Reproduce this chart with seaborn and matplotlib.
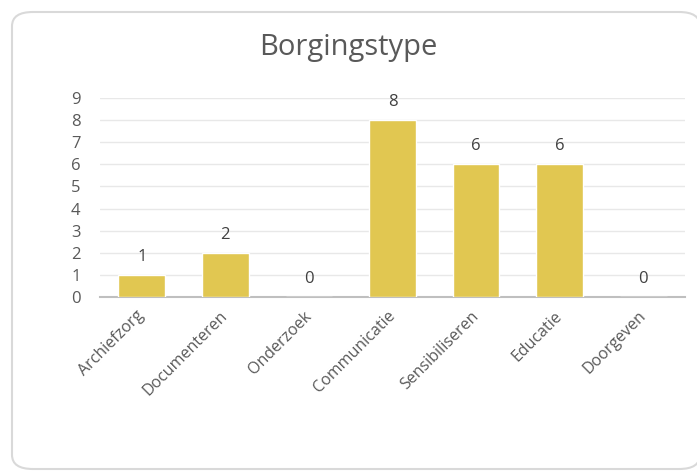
import matplotlib
matplotlib.use("Agg")
import matplotlib.pyplot as plt
from matplotlib.patches import FancyBboxPatch
import pandas as pd
import seaborn as sns

categories = ["Archiefzorg", "Documenteren", "Onderzoek", "Communicatie",
              "Sensibiliseren", "Educatie", "Doorgeven"]
counts = [1, 2, 0, 8, 6, 6, 0]
title = "Borgingstype"

bar_color = "#E1C751"
text_color = "#595959"

sns.set_theme(style="white")
plt.rcParams["font.family"] = ["Open Sans", "DejaVu Sans"]

df = pd.DataFrame({"type": categories, "count": counts})

W, H = 697, 472
fig = plt.figure(figsize=(W / 100, H / 100), dpi=100)

# rounded card border
card = FancyBboxPatch((12 / W, 3 / H), (700 - 12) / W, (460 - 3) / H,
                      boxstyle="round,pad=0,rounding_size=0.03",
                      transform=fig.transFigure, facecolor="white",
                      edgecolor="#D9D9D9", linewidth=1.5, zorder=-5)
fig.patches.append(card)

ax = fig.add_axes([100 / W, 1 - 297 / H, (685 - 100) / W, (297 - 98) / H])
ax.set_zorder(2)
ax.set_facecolor("none")

sns.barplot(data=df, x="type", y="count", color=bar_color, width=0.56,
            saturation=1, ax=ax, zorder=3)

ax.set_ylim(0, 9)
ax.set_xlim(-0.5, len(categories) - 0.5)
ax.set_yticks(range(0, 10))
ax.yaxis.grid(True, color="#E8E8E8", linewidth=1, zorder=0)
ax.set_axisbelow(True)
for side in ["top", "right", "left"]:
    ax.spines[side].set_visible(False)
ax.spines["bottom"].set_color("#BFBFBF")
ax.spines["bottom"].set_linewidth(1.5)

ax.tick_params(axis="y", length=0, labelsize=12, labelcolor=text_color, pad=14)
ax.tick_params(axis="x", length=0, labelsize=11.5, labelcolor=text_color, pad=12)
plt.setp(ax.get_xticklabels(), rotation=45, ha="right", va="center",
         rotation_mode="anchor")
ax.set_xlabel("")
ax.set_ylabel("")

for i, v in enumerate(counts):
    ax.text(i, v + 0.45, str(v), ha="center", va="bottom", fontsize=12,
            color="#404040")

fig.text(0.5, 1 - 48 / H, title, ha="center", va="center", fontsize=21,
         color=text_color, zorder=3)

fig.savefig("out.png", dpi=100)
